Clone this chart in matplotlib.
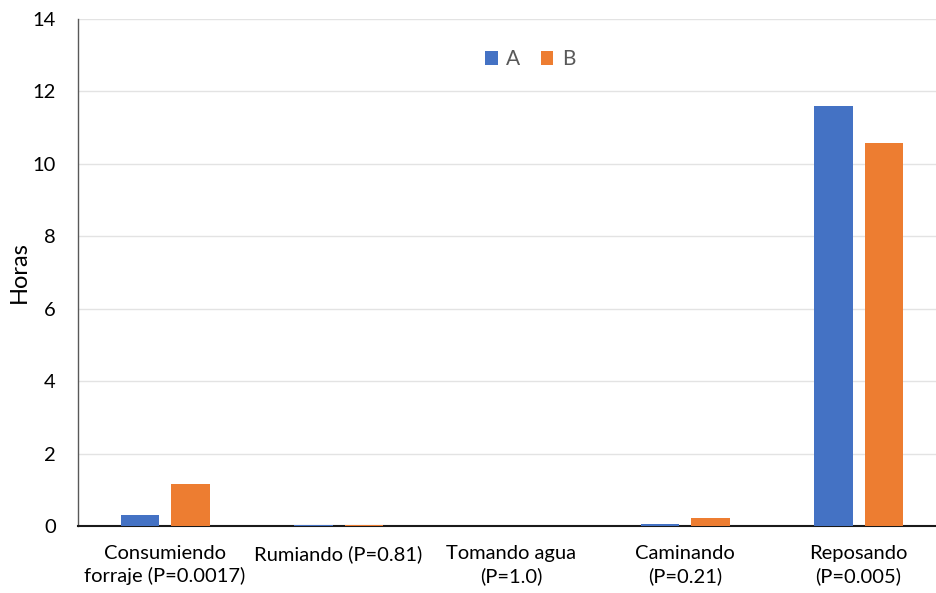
import matplotlib
matplotlib.use("Agg")
import matplotlib.pyplot as plt
import numpy as np

categories = [
    "Consumiendo\nforraje (P=0.0017)",
    "Rumiando (P=0.81)",
    "Tomando agua\n(P=1.0)",
    "Caminando\n(P=0.21)",
    "Reposando\n(P=0.005)",
]
horas_a = [0.30, 0.03, 0.0, 0.05, 11.6]
horas_b = [1.17, 0.02, 0.0, 0.22, 10.58]
yticks = [0, 2, 4, 6, 8, 10, 12, 14]

plt.rcParams["font.family"] = ["Lato", "DejaVu Sans"]

fig = plt.figure(figsize=(9.36, 5.93), dpi=100)
# the plot area runs a little past the right edge of the figure
ax = fig.add_axes([78 / 936, 67 / 593, 867 / 936, 507 / 593])

x = np.arange(len(categories))
width = 0.222
ax.bar(x - 0.143, horas_a, width, color="#4472c4", label="A", zorder=3)
ax.bar(x + 0.148, horas_b, width, color="#ed7d31", label="B", zorder=3)

ax.set_xlim(-0.5, len(categories) - 0.5)
ax.set_ylim(0, 14)
ax.set_yticks(yticks)
ax.set_xticks(x)
ax.set_xticklabels(categories, fontsize=14.5, linespacing=1.32)
ax.tick_params(axis="y", labelsize=14.5, length=0, pad=16)
ax.tick_params(axis="x", length=0, pad=14)
ax.grid(axis="y", color="#e3e3e3", linewidth=1, zorder=0)

ax.spines["top"].set_visible(False)
ax.spines["right"].set_visible(False)
ax.spines["left"].set_color("#595959")
ax.spines["left"].set_linewidth(1)
ax.spines["bottom"].set_color("#1a1a1a")
ax.spines["bottom"].set_linewidth(1.5)

fig.text(19 / 936, 1 - 272 / 593, "Horas", fontsize=17, rotation=90,
         ha="center", va="center")

ax.legend(loc="upper center", bbox_to_anchor=(452 / 867, 0.977), ncol=2, frameon=False,
          fontsize=15, handlelength=0.6, handleheight=0.6, handletextpad=0.4,
          columnspacing=1.0, labelcolor="#595959")

fig.savefig("out.png", dpi=100)
plt.close()
